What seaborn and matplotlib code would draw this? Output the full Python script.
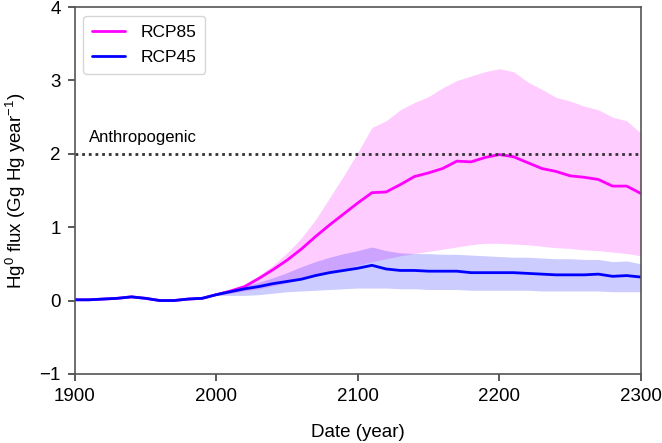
import numpy as np
import pandas as pd
import seaborn as sns
import matplotlib.pyplot as plt

# historical (shared) period
hist_years = [1900, 1910, 1920, 1930, 1940, 1950, 1960, 1970, 1980, 1990]
hist_flux = [0.01, 0.01, 0.02, 0.03, 0.05, 0.03, 0.00, 0.00, 0.02, 0.03]

# scenario period
scen_years = list(range(2000, 2301, 10))

rcp85_mean = [0.08, 0.13, 0.19, 0.30, 0.42, 0.55, 0.70, 0.87, 1.03, 1.18,
              1.33, 1.47, 1.48, 1.58, 1.69, 1.74, 1.80, 1.90, 1.89, 1.95,
              1.99, 1.96, 1.88, 1.80, 1.76, 1.70, 1.68, 1.65, 1.56, 1.56, 1.46]
rcp85_high = [0.08, 0.14, 0.22, 0.34, 0.48, 0.65, 0.85, 1.10, 1.40, 1.70,
              2.02, 2.36, 2.45, 2.60, 2.70, 2.78, 2.90, 3.00, 3.06, 3.12,
              3.16, 3.12, 2.98, 2.88, 2.77, 2.72, 2.65, 2.60, 2.50, 2.45, 2.28]
rcp85_low = [0.07, 0.10, 0.13, 0.16, 0.20, 0.24, 0.29, 0.33, 0.38, 0.43,
             0.48, 0.53, 0.57, 0.61, 0.64, 0.67, 0.70, 0.73, 0.76, 0.78,
             0.78, 0.77, 0.76, 0.74, 0.72, 0.71, 0.69, 0.68, 0.66, 0.64, 0.61]

rcp45_mean = [0.08, 0.12, 0.16, 0.19, 0.23, 0.26, 0.29, 0.34, 0.38, 0.41,
              0.44, 0.48, 0.43, 0.41, 0.41, 0.40, 0.40, 0.40, 0.38, 0.38,
              0.38, 0.38, 0.37, 0.36, 0.35, 0.35, 0.35, 0.36, 0.33, 0.34, 0.32]
rcp45_high = [0.08, 0.14, 0.20, 0.25, 0.31, 0.38, 0.46, 0.53, 0.59, 0.64,
              0.68, 0.73, 0.68, 0.65, 0.64, 0.64, 0.63, 0.63, 0.62, 0.61,
              0.60, 0.59, 0.59, 0.58, 0.57, 0.57, 0.56, 0.56, 0.53, 0.54, 0.50]
rcp45_low = [0.07, 0.07, 0.07, 0.08, 0.10, 0.12, 0.13, 0.14, 0.15, 0.16,
             0.17, 0.17, 0.17, 0.16, 0.16, 0.15, 0.15, 0.15, 0.14, 0.14,
             0.14, 0.14, 0.14, 0.13, 0.13, 0.13, 0.13, 0.13, 0.12, 0.12, 0.12]

anthropogenic = 2.0

sns.set_theme(style="ticks")
plt.rcParams['font.family'] = ['Liberation Sans', 'DejaVu Sans']
plt.rcParams['mathtext.fontset'] = 'custom'
plt.rcParams['mathtext.rm'] = 'Liberation Sans'
plt.rcParams['mathtext.it'] = 'Liberation Sans'
plt.rcParams['text.color'] = 'black'
plt.rcParams['axes.labelcolor'] = 'black'
plt.rcParams['xtick.labelcolor'] = 'black'
plt.rcParams['ytick.labelcolor'] = 'black'

df = pd.DataFrame({
    "year": hist_years + scen_years + hist_years + scen_years,
    "flux": hist_flux + rcp85_mean + hist_flux + rcp45_mean,
    "scenario": ["RCP85"] * (len(hist_years) + len(scen_years))
                + ["RCP45"] * (len(hist_years) + len(scen_years)),
})

fig = plt.figure(figsize=(6.62, 4.43), dpi=100)
ax = fig.add_axes([0.113, 0.156, 0.855, 0.828])

pink = "#ff00ff"
blue = "#0000ff"

ax.fill_between(scen_years, rcp85_low, rcp85_high, color=pink, alpha=0.2, lw=0)
ax.fill_between(scen_years, rcp45_low, rcp45_high, color=blue, alpha=0.2, lw=0)

sns.lineplot(data=df, x="year", y="flux", hue="scenario",
             palette={"RCP85": pink, "RCP45": blue}, lw=2, ax=ax)

ax.axhline(anthropogenic, color="#333333", ls=(0, (1, 1.4)), lw=2)
ax.text(1910, anthropogenic + 0.12, "Anthropogenic", fontsize=12, va="bottom")

ax.set_xlim(1900, 2300)
ax.set_ylim(-1, 4)
ax.set_xticks([1900, 2000, 2100, 2200, 2300])
ax.set_yticks([-1, 0, 1, 2, 3, 4])
ax.set_yticklabels(["\u22121", "0", "1", "2", "3", "4"])
ax.tick_params(labelsize=13.5, length=5, pad=5, color="#444444")
ax.set_xlabel("Date (year)", fontsize=13.5, labelpad=14)
ax.set_ylabel("Hg$^0$ flux (Gg Hg year$^{-1}$)", fontsize=13.5, labelpad=8)
for s in ax.spines.values():
    s.set_color("#555555")
    s.set_linewidth(1.2)

leg = ax.legend(loc="upper left", fontsize=12.5, handlelength=1.9,
                handletextpad=0.9, frameon=True, fancybox=True,
                borderpad=0.5, labelspacing=0.6, title=None)
leg.get_frame().set_edgecolor("#cccccc")

fig.savefig("out.png", dpi=100)
